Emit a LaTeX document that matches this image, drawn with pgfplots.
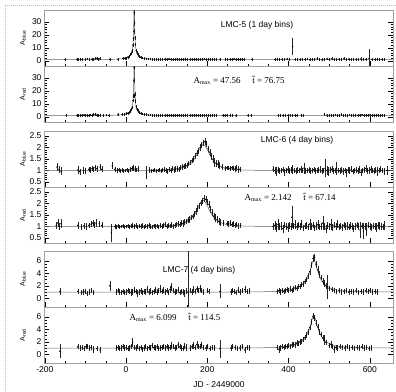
\documentclass[border=0pt]{standalone}
\usepackage{pgfplots}
\pgfplotsset{compat=1.18}
\usepackage{pgfplotstable}
\usepackage{fontspec}
\setsansfont{Liberation Sans}
\setmainfont{Liberation Serif}

% ---------------- LMC-5 blue (1 day bins) ----------------
\pgfplotstableread{
t a e
-150 1.0 0.5
-121 1.2 0.4
-117 0.9 0.4
-112 1.3 0.5
-108 1.1 0.4
-100 1.0 0.4
-95 1.4 0.5
-90 0.8 0.4
-84 1.2 0.4
-80 1.0 0.5
-76 1.6 0.6
-72 1.9 0.6
-69 1.2 0.5
-65 1.5 0.5
-40 1.1 0.4
-20 1.3 0.5
-8 1.8 0.5
-3 2.0 0.5
0 2.1 0.5
4 2.8 0.5
8 3.5 0.5
11 4.6 0.6
13 5.8 0.6
15 7.5 0.7
17 12.0 0.8
18 17 1
19 22.5 1.2
20 37 1.5
21 29 1.5
22 17.5 1
23 12.5 0.8
25 7.8 0.6
27 6.0 0.6
29 4.9 0.5
32 3.4 0.5
36 2.8 0.5
40 2.2 0.4
45 1.8 0.4
50 1.5 0.4
55 1.4 0.4
60 1.3 0.4
65 1.2 0.4
70 1.1 0.4
75 1.2 0.4
80 1.0 0.4
85 1.1 0.4
90 0.9 0.4
95 1.2 0.4
100 1.0 0.4
105 1.3 0.4
110 1.1 0.4
115 0.8 0.4
120 1.0 0.4
125 1.2 0.4
130 0.9 0.4
135 1.1 0.4
140 1.0 0.4
145 1.3 0.5
150 1.1 0.4
157 0.9 0.4
162 1.1 0.4
167 1.0 0.4
172 1.2 0.4
177 0.9 0.4
182 1.0 0.4
187 1.1 0.4
192 1.3 0.4
197 0.8 0.4
202 1.0 0.4
207 1.2 0.4
212 0.9 0.4
217 1.1 0.4
222 1.0 0.4
231 1.1 0.8
245 1.2 0.4
250 0.9 0.4
255 1.1 0.4
260 1.0 0.4
265 1.3 0.4
270 0.8 0.4
275 1.1 0.4
280 1.0 0.4
285 1.2 0.4
290 0.9 0.4
310 1.1 0.8
366 1.0 0.4
372 1.2 0.4
378 0.9 0.4
384 1.1 0.4
390 1.0 0.4
396 1.3 0.4
402 0.9 0.4
410 10.8 6.1
416 1.0 0.4
422 1.2 0.4
428 0.9 0.4
434 1.1 0.4
440 1.0 0.4
446 1.4 0.5
452 0.8 0.4
458 1.1 0.4
464 1.0 0.5
470 1.5 0.5
476 1.2 0.5
482 0.7 0.5
488 1.1 0.5
494 1.4 0.5
500 1.0 0.5
506 1.6 0.6
512 1.0 0.5
518 0.8 0.5
524 1.3 0.5
530 1.1 0.5
536 1.5 0.6
542 1.0 0.5
548 1.2 0.5
554 0.9 0.5
560 1.3 0.5
566 1.1 0.5
572 1.0 0.5
578 1.4 0.6
584 1.2 0.5
590 1.0 0.5
598 1.8 6.8
605 1.1 0.5
612 1.0 0.5
618 1.2 0.5
624 0.9 0.5
630 1.1 0.5
636 1.0 0.5
}\lmcfiveb

% ---------------- LMC-5 red ----------------
\pgfplotstableread{
t a e
-147 1.1 0.5
-121 1.0 0.4
-117 1.2 0.4
-113 0.9 0.4
-109 1.1 0.4
-104 1.3 0.4
-100 1.0 0.4
-96 1.2 0.4
-92 0.9 0.4
-88 1.4 0.5
-84 1.1 0.4
-80 1.6 0.5
-76 1.9 0.5
-72 1.3 0.5
-68 1.1 0.4
-64 1.2 0.4
-56 1.0 0.4
-48 1.3 0.4
-42 1.1 0.4
-20 1.5 0.5
-10 1.6 0.5
-4 1.9 0.5
0 2.2 0.5
4 2.7 0.5
8 3.4 0.5
11 4.4 0.6
13 5.5 0.6
15 7.4 0.6
17 12.6 0.8
18 16 1
19 28 1.3
20 38 1.5
21 16 1.0
22 17.5 1.0
23 12.0 0.8
25 7.6 0.6
27 5.9 0.6
29 4.6 0.5
32 3.3 0.5
36 2.6 0.5
40 2.1 0.4
45 1.8 0.4
50 1.6 0.4
55 1.4 0.4
60 1.3 0.4
65 1.2 0.4
70 1.2 0.4
75 1.0 0.4
80 1.1 0.4
85 1.0 0.4
90 1.2 0.4
95 0.9 0.4
100 1.1 0.4
105 1.0 0.4
110 1.2 0.4
115 0.9 0.4
120 1.1 0.4
125 1.0 0.4
130 1.2 0.4
135 0.9 0.4
140 1.1 0.4
145 1.0 0.4
150 1.2 0.4
157 1.0 0.4
162 1.1 0.4
167 0.9 0.4
172 1.2 0.4
177 1.0 0.4
182 1.1 0.4
187 0.9 0.4
192 1.2 0.4
197 1.0 0.4
202 1.1 0.4
207 0.9 0.4
212 1.0 0.4
217 1.2 0.4
222 1.0 0.4
238 1.1 0.4
243 0.9 0.4
248 1.2 0.4
256 1.0 0.4
262 1.1 0.4
270 0.9 0.4
300 1.0 0.4
308 1.1 0.4
375 1.0 0.4
380 1.2 0.4
386 0.9 0.4
392 1.1 0.4
398 1.0 0.4
404 1.2 0.4
410 0.9 0.4
416 1.1 0.4
420 1.0 0.4
432 1.2 0.4
436 0.9 0.4
488 2.0 0.6
494 1.2 0.5
500 1.0 0.4
505 1.3 0.5
510 1.1 0.4
515 1.4 0.5
520 1.0 0.4
525 1.2 0.4
530 1.5 0.5
535 1.1 0.4
540 1.3 0.5
545 1.0 0.4
550 1.4 0.5
555 1.2 0.4
560 1.0 0.4
565 1.3 0.5
570 1.1 0.4
575 1.2 0.4
580 1.4 0.5
585 1.0 0.4
590 1.2 0.4
595 1.1 0.4
600 1.3 0.5
605 1.0 0.4
610 1.2 0.4
615 1.1 0.4
620 1.3 0.5
625 0.9 0.4
630 1.1 0.4
636 1.0 0.4
}\lmcfiver

% ---------------- LMC-6 blue (4 day bins) ----------------
\pgfplotstableread{
t a e
-170 1.15 0.15
-165 1.05 0.12
-160 0.97 0.15
-119 1.02 0.12
-114 0.95 0.1
-105 1.0 0.1
-100 0.98 0.08
-92 1.05 0.08
-88 1.02 0.08
-84 1.08 0.08
-80 1.05 0.08
-76 1.12 0.1
-72 1.08 0.1
-64 1.15 0.1
-60 1.05 0.1
-34 1.2 0.12
-28 1.05 0.08
-22 1.0 0.06
-18 1.03 0.06
-14 0.98 0.05
-10 1.02 0.05
-6 0.97 0.05
-2 1.0 0.05
2 1.03 0.05
6 0.98 0.05
10 1.05 0.06
14 1.08 0.08
18 1.12 0.1
22 1.06 0.08
26 1.02 0.06
30 1.08 0.1
50 0.9 0.25
58 1.02 0.08
62 0.97 0.06
66 1.0 0.05
70 1.03 0.05
74 0.98 0.05
78 1.0 0.05
82 1.04 0.05
86 0.98 0.05
90 1.02 0.06
94 1.05 0.06
98 1.0 0.08
102 0.96 0.08
106 1.04 0.08
110 1.0 0.06
114 1.08 0.08
118 1.02 0.08
122 1.06 0.08
126 1.08 0.1
130 1.05 0.08
134 1.12 0.08
138 1.15 0.08
142 1.18 0.08
146 1.2 0.08
150 1.22 0.08
154 1.3 0.08
158 1.35 0.08
162 1.42 0.08
166 1.5 0.1
170 1.62 0.1
174 1.75 0.1
178 1.85 0.1
182 2.0 0.1
186 2.1 0.1
190 2.2 0.1
194 2.25 0.12
198 2.15 0.1
202 1.95 0.1
206 1.8 0.12
210 1.62 0.12
214 1.5 0.15
218 1.35 0.15
222 1.3 0.12
226 1.28 0.15
230 1.2 0.12
236 1.15 0.1
244 1.1 0.08
248 1.12 0.06
252 1.1 0.06
256 1.08 0.06
260 1.12 0.06
264 1.1 0.08
268 1.06 0.08
272 1.1 0.1
276 1.04 0.1
280 1.05 0.08
362 1.05 0.1
366 1.0 0.12
370 0.95 0.15
374 1.02 0.1
378 0.98 0.08
382 1.0 0.06
386 1.03 0.08
390 0.92 0.12
394 1.0 0.08
398 1.05 0.12
402 0.98 0.08
406 1.02 0.08
410 1.05 0.15
414 1.0 0.08
418 0.97 0.1
422 1.02 0.08
426 1.0 0.08
430 1.06 0.12
434 1.0 0.08
438 1.1 0.2
442 0.98 0.1
446 1.0 0.06
450 1.02 0.08
454 0.96 0.1
458 1.0 0.08
462 1.04 0.08
466 0.97 0.1
470 1.0 0.08
474 1.02 0.1
478 1.05 0.12
482 0.98 0.1
486 1.0 0.08
490 1.1 0.35
494 1.0 0.15
498 0.95 0.15
502 1.02 0.08
506 1.05 0.1
510 0.98 0.08
514 1.0 0.08
518 1.1 0.25
522 1.0 0.08
526 0.98 0.08
530 1.03 0.1
534 0.95 0.12
538 1.0 0.08
542 0.9 0.15
546 1.02 0.08
550 1.0 0.1
554 1.05 0.1
558 0.97 0.08
562 1.0 0.08
566 1.02 0.1
570 0.98 0.1
574 1.05 0.12
578 0.92 0.12
582 1.0 0.08
586 1.03 0.1
590 1.08 0.12
594 0.98 0.08
598 1.0 0.1
602 1.05 0.12
606 1.0 0.08
610 0.96 0.1
614 1.02 0.08
618 0.95 0.15
622 1.0 0.08
626 1.05 0.1
630 1.0 0.08
636 0.97 0.12
642 1.0 0.15
}\lmcsixb

% ---------------- LMC-6 red ----------------
\pgfplotstableread{
t a e
-172 1.05 0.12
-168 1.15 0.15
-164 1.0 0.12
-160 1.12 0.15
-119 1.05 0.12
-110 0.98 0.08
-104 1.02 0.08
-98 1.0 0.1
-92 1.05 0.08
-86 1.1 0.1
-82 1.15 0.1
-78 1.08 0.1
-74 1.15 0.12
-66 1.12 0.1
-60 1.05 0.1
-36 0.72 0.35
-28 1.0 0.08
-24 0.97 0.06
-20 1.02 0.06
-16 0.98 0.06
-12 1.0 0.05
-8 1.02 0.05
-4 0.98 0.05
0 1.0 0.05
4 1.03 0.05
8 0.98 0.06
12 1.02 0.06
16 1.05 0.08
20 1.0 0.06
24 1.03 0.08
28 0.97 0.06
32 1.02 0.06
36 1.0 0.06
40 1.04 0.08
44 0.98 0.06
48 1.02 0.06
52 1.0 0.06
56 1.05 0.08
60 1.0 0.06
64 0.97 0.06
68 1.03 0.06
72 1.0 0.06
76 1.02 0.06
80 0.98 0.06
84 1.05 0.06
88 1.0 0.06
92 1.03 0.08
96 1.08 0.08
100 1.0 0.06
104 1.05 0.08
108 1.02 0.06
112 1.06 0.08
116 1.0 0.06
120 1.05 0.08
124 1.08 0.08
128 1.12 0.1
132 1.08 0.08
136 1.15 0.1
140 1.12 0.12
144 1.18 0.1
148 1.22 0.08
152 1.28 0.08
156 1.3 0.1
160 1.38 0.08
164 1.45 0.08
168 1.55 0.1
172 1.65 0.1
176 1.78 0.1
180 1.9 0.1
184 2.02 0.1
188 2.12 0.1
192 2.22 0.12
196 2.18 0.1
200 2.05 0.1
204 1.95 0.12
208 1.75 0.12
212 1.6 0.12
216 1.45 0.12
220 1.38 0.15
224 1.3 0.12
228 1.22 0.1
232 1.18 0.12
240 1.15 0.1
248 1.12 0.08
252 1.1 0.1
256 1.15 0.1
260 1.08 0.08
264 1.12 0.1
268 1.05 0.08
272 1.08 0.08
276 1.02 0.08
282 1.05 0.06
362 1.0 0.1
366 1.05 0.15
370 0.95 0.15
374 1.08 0.2
378 1.0 0.1
382 1.02 0.12
386 0.9 0.15
390 1.05 0.1
394 1.0 0.12
398 0.95 0.15
402 1.05 0.12
406 1.0 0.1
408 1.4 0.45
412 1.02 0.1
416 1.08 0.15
420 0.98 0.12
424 1.05 0.1
428 1.0 0.1
432 1.1 0.15
436 0.95 0.1
440 1.02 0.1
444 1.05 0.12
448 0.98 0.1
452 1.1 0.2
456 1.0 0.12
460 1.05 0.1
464 0.95 0.1
468 1.02 0.12
472 1.08 0.15
476 0.98 0.1
480 1.0 0.1
484 1.15 0.25
488 1.0 0.12
492 0.9 0.15
496 1.05 0.12
500 1.0 0.1
504 1.08 0.2
508 0.95 0.12
512 1.05 0.1
516 1.0 0.12
520 1.1 0.15
524 0.98 0.1
528 1.02 0.1
532 0.95 0.12
536 1.05 0.1
540 1.0 0.1
544 1.02 0.12
548 0.96 0.1
552 1.04 0.1
556 1.0 0.1
560 0.92 0.12
564 1.0 0.1
568 1.05 0.1
572 1.0 0.1
576 0.85 0.3
580 1.02 0.1
584 0.8 0.3
588 1.0 0.1
592 0.85 0.25
596 1.05 0.1
600 1.0 0.12
604 0.95 0.12
608 1.02 0.1
612 1.0 0.1
616 0.95 0.15
620 1.05 0.12
624 1.02 0.15
628 1.0 0.12
632 0.98 0.1
636 1.05 0.15
}\lmcsixr

% ---------------- LMC-7 blue (4 day bins) ----------------
\pgfplotstableread{
t a e
-163 1.1 0.5
-119 1.1 0.3
-110 0.9 0.3
-106 1.0 0.4
-101 1.1 0.3
-96 0.8 0.3
-90 1.0 0.3
-85 1.2 0.3
-80 0.9 0.3
-40 2.0 0.7
-24 1.0 0.3
-20 1.2 0.3
-16 1.0 0.3
-12 0.9 0.3
-8 1.1 0.3
-4 0.9 0.3
0 1.0 0.3
4 1.2 0.3
8 1.1 0.3
12 0.9 0.4
16 1.0 0.3
20 1.3 0.4
24 1.1 0.3
28 0.8 0.4
32 1.0 0.3
36 1.2 0.4
40 0.9 0.3
44 1.1 0.3
48 1.0 0.3
52 1.4 0.4
56 1.0 0.3
60 1.2 0.4
64 0.9 0.3
68 1.1 0.3
72 1.3 0.4
76 1.0 0.3
80 1.2 0.3
84 1.5 0.5
88 1.1 0.3
92 1.3 0.4
96 1.0 0.3
100 1.2 0.3
104 0.9 0.3
108 1.4 0.4
112 1.8 0.5
116 1.2 0.3
120 1.0 0.3
124 1.1 0.3
128 1.3 0.4
132 0.9 0.3
136 1.1 0.3
140 1.0 0.4
144 0.8 0.4
148 1.2 0.4
152 1.0 12
158 1.2 0.3
162 1.0 0.4
166 1.4 0.4
170 1.1 0.3
174 1.5 0.4
178 1.2 0.3
182 1.6 0.4
186 1.2 0.3
190 1.0 0.3
200 1.2 0.3
204 1.1 0.3
231 1.1 1.0
258 1.0 0.3
262 1.2 0.3
266 1.1 0.3
270 0.9 0.3
276 1.3 0.4
280 1.0 0.3
286 1.2 0.3
292 1.4 0.4
298 1.1 0.3
304 1.2 0.4
372 1.1 0.3
376 1.2 0.3
380 1.0 0.3
384 1.3 0.3
388 1.1 0.3
392 1.2 0.3
396 1.4 0.3
400 1.2 0.3
404 1.5 0.3
408 1.3 0.3
412 1.5 0.3
416 1.7 0.3
420 1.6 0.3
424 1.9 0.3
428 1.9 0.3
432 2.2 0.3
436 2.3 0.3
440 2.7 0.3
444 3.0 0.3
448 3.6 0.3
452 4.3 0.35
456 5.3 0.35
460 6.4 0.4
464 6.6 0.4
468 5.4 0.4
472 4.6 0.4
476 3.8 0.4
480 3.3 0.3
484 2.7 0.4
488 2.4 0.4
492 2.0 0.4
495 1.8 1.8
500 1.6 0.3
506 1.4 0.3
512 1.3 0.3
518 1.1 0.3
524 1.2 0.3
530 1.0 0.3
536 1.1 0.3
542 1.2 0.3
548 1.0 0.3
554 1.1 0.3
560 1.0 0.3
566 1.2 0.3
572 0.9 0.3
578 1.1 0.3
584 1.0 0.3
590 1.2 0.3
596 1.1 0.3
600 1.3 0.3
606 1.0 0.3
612 1.1 0.3
618 1.0 0.3
}\lmcsevenb

% ---------------- LMC-7 red ----------------
\pgfplotstableread{
t a e
-163 0.5 1.0
-119 1.2 0.3
-112 1.0 0.3
-108 1.1 0.3
-103 0.9 0.3
-99 1.2 0.3
-95 1.3 0.3
-90 1.0 0.3
-86 1.1 0.3
-80 0.8 0.4
-72 0.9 0.3
-64 0.7 0.4
-24 1.0 0.3
-20 1.1 0.3
-16 0.9 0.3
-12 1.0 0.3
-8 1.2 0.3
-4 1.0 0.3
0 1.1 0.3
4 0.9 0.3
8 1.0 0.3
12 1.3 0.3
16 1.9 0.6
20 1.1 0.3
24 1.0 0.3
28 1.2 0.3
32 0.9 0.3
36 1.1 0.3
40 0.8 0.3
44 1.0 0.3
48 1.2 0.3
52 0.9 0.3
56 1.1 0.3
60 1.0 0.3
64 1.4 0.3
68 1.1 0.3
72 1.0 0.3
76 1.2 0.3
80 0.9 0.3
84 1.0 0.3
88 1.1 0.3
92 1.3 0.3
96 1.0 0.3
100 1.2 0.3
104 1.0 0.3
108 1.1 0.3
112 1.4 0.4
116 1.2 0.3
120 1.0 0.3
124 1.1 0.3
128 1.5 0.4
132 1.2 0.3
136 1.0 0.3
140 0.9 0.3
144 1.3 0.4
148 1.1 0.5
158 1.0 0.3
162 1.2 0.3
166 1.4 0.4
170 1.1 0.3
174 1.6 0.4
178 1.3 0.3
182 1.2 0.3
186 1.5 0.4
190 1.1 0.3
196 1.0 0.3
200 1.2 0.3
206 0.9 0.3
212 1.1 0.3
218 1.0 0.3
231 0.9 1.3
258 1.0 0.3
262 1.2 0.3
268 1.1 0.3
274 0.9 0.3
280 1.0 0.3
286 1.2 0.3
292 0.7 0.4
298 1.1 0.3
304 1.0 0.3
372 1.1 0.3
376 0.8 0.4
380 1.0 0.3
384 1.2 0.3
388 1.1 0.3
392 1.3 0.3
396 1.2 0.3
400 1.4 0.3
404 1.3 0.3
408 1.5 0.3
412 1.6 0.3
416 1.5 0.3
420 1.8 0.3
424 1.7 0.3
428 2.0 0.3
432 2.1 0.3
436 2.4 0.3
440 2.7 0.3
444 3.1 0.3
448 3.6 0.3
452 4.3 0.3
456 5.2 0.35
460 6.1 0.35
464 5.8 0.35
468 5.0 0.35
472 4.4 0.35
476 3.6 0.3
480 3.2 0.3
484 2.6 0.3
488 2.3 0.6
492 1.9 0.3
500 1.4 0.3
504 1.6 0.4
508 1.2 0.3
512 0.8 0.4
516 1.1 0.3
520 1.0 0.3
526 1.2 0.3
532 1.1 0.3
538 1.0 0.3
544 1.2 0.3
550 1.0 0.3
556 1.1 0.3
562 0.9 0.3
568 1.1 0.3
574 1.0 0.3
580 1.2 0.3
586 1.0 0.3
592 1.1 0.3
598 0.9 0.3
604 1.0 0.3
}\lmcsevenr

\pgfplotsset{
  panel/.style={
    scale only axis, width=349pt, height=56pt,
    xmin=-202, xmax=657,
    xtick={-200,0,200,400,600}, minor x tick num=3,
    xtick pos=left, xticklabels={},
    axis line style={draw=gray!75, line width=1pt},
    tick style={black, line width=0.4pt},
    major tick length=5pt, minor tick length=2.5pt,
    tick label style={font=\sffamily\fontsize{8.5}{9}\selectfont},
    /pgf/number format/assume math mode=true,
    yticklabel style={xshift=1pt},
    clip=true,
  },
  pts/.style={only marks, mark=*, mark size=0.45pt, black,
    error bars/.cd, y dir=both, y explicit,
    error bar style={line width=0.3pt, black!85},
    error mark options={mark size=0.8pt, line width=0.3pt, black!85}},
  model/.style={black!60, line width=0.5pt, no marks},
}

\begin{document}
\begin{tikzpicture}
\useasboundingbox (0pt,0pt) rectangle (396pt,-391pt);
\draw[gray!55, densely dotted, line width=1pt] (5pt,-391pt) -- (5pt,-5pt) -- (396pt,-5pt);

% ---- panel 1: LMC-5 blue
\begin{axis}[panel, at={(44pt,-10pt)}, anchor=north west,
  ymin=-4, ymax=39, ytick={0,10,20,30}, minor y tick num=4]
\addplot[model] coordinates {(-200,1.000)(-130,1.007)(-60,1.054)(-40,1.120)(-30,1.189)(-20,1.313)(-10,1.556)(-5,1.769)(0,2.109)(5,2.701)(8,3.309)(10,3.924)(12,4.854)(14,6.400)(15,7.63)(16,9.447)(17,12.4)(18,17.8)(18.5,22.6)(19,29.9)(19.5,40.5)(20,47.56)(20.5,40.5)(21,29.9)(21.5,22.6)(22,17.8)(23,12.4)(24,9.447)(25,7.63)(26,6.400)(28,4.854)(30,3.924)(32,3.309)(35,2.701)(40,2.109)(45,1.769)(50,1.556)(60,1.313)(70,1.189)(80,1.120)(100,1.054)(170,1.007)(660,1.000)};
\addplot[pts] table[x=t, y=a, y error=e] {\lmcfiveb};
\end{axis}

% ---- panel 2: LMC-5 red
\begin{axis}[panel, at={(44pt,-66pt)}, anchor=north west,
  ymin=-4, ymax=39, ytick={0,10,20,30}, minor y tick num=4]
\addplot[model] coordinates {(-200,1.000)(-130,1.007)(-60,1.054)(-40,1.120)(-30,1.189)(-20,1.313)(-10,1.556)(-5,1.769)(0,2.109)(5,2.701)(8,3.309)(10,3.924)(12,4.854)(14,6.400)(15,7.63)(16,9.447)(17,12.4)(18,17.8)(18.5,22.6)(19,29.9)(19.5,40.5)(20,47.56)(20.5,40.5)(21,29.9)(21.5,22.6)(22,17.8)(23,12.4)(24,9.447)(25,7.63)(26,6.400)(28,4.854)(30,3.924)(32,3.309)(35,2.701)(40,2.109)(45,1.769)(50,1.556)(60,1.313)(70,1.189)(80,1.120)(100,1.054)(170,1.007)(660,1.000)};
\addplot[pts] table[x=t, y=a, y error=e] {\lmcfiver};
\end{axis}

% ---- panel 3: LMC-6 blue
\begin{axis}[panel, at={(44pt,-131pt)}, anchor=north west,
  ymin=0.28, ymax=2.72, ytick={0.5,1,1.5,2,2.5}, minor y tick num=4]
\addplot[model] coordinates {(-200,1.000)(40,1.004)(90,1.0165)(120,1.049)(130,1.075)(140,1.1175)(150,1.191)(155,1.247)(160,1.321)(165,1.420)(170,1.551)(175,1.716)(180,1.904)(185,2.071)(190,2.142)(195,2.071)(200,1.904)(205,1.716)(210,1.551)(215,1.420)(220,1.321)(225,1.247)(230,1.191)(240,1.1175)(250,1.075)(260,1.049)(290,1.0165)(340,1.004)(660,1.000)};
\addplot[pts] table[x=t, y=a, y error=e] {\lmcsixb};
\end{axis}

% ---- panel 4: LMC-6 red
\begin{axis}[panel, at={(44pt,-187pt)}, anchor=north west,
  ymin=0.28, ymax=2.72, ytick={0.5,1,1.5,2,2.5}, minor y tick num=4]
\addplot[model] coordinates {(-200,1.000)(40,1.004)(90,1.0165)(120,1.049)(130,1.075)(140,1.1175)(150,1.191)(155,1.247)(160,1.321)(165,1.420)(170,1.551)(175,1.716)(180,1.904)(185,2.071)(190,2.142)(195,2.071)(200,1.904)(205,1.716)(210,1.551)(215,1.420)(220,1.321)(225,1.247)(230,1.191)(240,1.1175)(250,1.075)(260,1.049)(290,1.0165)(340,1.004)(660,1.000)};
\addplot[pts] table[x=t, y=a, y error=e] {\lmcsixr};
\end{axis}

% ---- panel 5: LMC-7 blue
\begin{axis}[panel, at={(44pt,-251pt)}, anchor=north west,
  ymin=-1.4, ymax=7.6, ytick={0,2,4,6}, minor y tick num=3]
\addplot[model] coordinates {(-200,1.000)(160,1.002)(280,1.014)(340,1.052)(360,1.088)(380,1.157)(400,1.301)(410,1.434)(420,1.649)(430,2.020)(437,2.313)(442,2.729)(447,3.341)(452,4.244)(454.5,4.814)(457,5.410)(459.5,5.901)(462,6.099)(464.5,5.901)(467,5.410)(469.5,4.814)(472,4.244)(477,3.341)(482,2.729)(487,2.313)(492,2.020)(502,1.649)(512,1.434)(522,1.301)(542,1.157)(562,1.088)(582,1.052)(642,1.014)(660,1.010)};
\addplot[pts] table[x=t, y=a, y error=e] {\lmcsevenb};
\end{axis}

% ---- panel 6: LMC-7 red
\begin{axis}[panel, at={(44pt,-307pt)}, anchor=north west,
  ymin=-1.4, ymax=7.6, ytick={0,2,4,6}, minor y tick num=3,
  xticklabels={-200,0,200,400,600}]
\addplot[model] coordinates {(-200,1.000)(160,1.002)(280,1.014)(340,1.052)(360,1.088)(380,1.157)(400,1.301)(410,1.434)(420,1.649)(430,2.020)(437,2.313)(442,2.729)(447,3.341)(452,4.244)(454.5,4.814)(457,5.410)(459.5,5.901)(462,6.099)(464.5,5.901)(467,5.410)(469.5,4.814)(472,4.244)(477,3.341)(482,2.729)(487,2.313)(492,2.020)(502,1.649)(512,1.434)(522,1.301)(542,1.157)(562,1.088)(582,1.052)(642,1.014)(660,1.010)};
\addplot[pts] table[x=t, y=a, y error=e] {\lmcsevenr};
\end{axis}

% ---- y labels
\begin{scope}[font=\sffamily\fontsize{7}{8}\selectfont]
\node[rotate=90] at (23pt,-38pt) {A\textsubscript{blue}};
\node[rotate=90] at (23pt,-94pt) {A\textsubscript{red}};
\node[rotate=90] at (23pt,-159pt) {A\textsubscript{blue}};
\node[rotate=90] at (23pt,-215pt) {A\textsubscript{red}};
\node[rotate=90] at (23pt,-279pt) {A\textsubscript{blue}};
\node[rotate=90] at (23pt,-335pt) {A\textsubscript{red}};
\end{scope}

% ---- titles and fit parameters
\begin{scope}[font=\sffamily\fontsize{8.5}{9}\selectfont]
\node at (257pt,-25pt) {LMC-5 (1 day bins)};
\node at (297pt,-140pt) {LMC-6 (4 day bins)};
\node at (199pt,-270pt) {LMC-7 (4 day bins)};
\node at (219pt,-385pt) {JD - 2449000};
\end{scope}
\begin{scope}[font=\rmfamily\fontsize{9}{10}\selectfont]
\node[anchor=west] at (190pt,-80pt) {A\textsubscript{max} = 47.56\hspace{1.3em}\^{t} = 76.75};
\node[anchor=west] at (241pt,-197pt) {A\textsubscript{max} = 2.142\hspace{1.3em}\^{t} = 67.14};
\node[anchor=west] at (126pt,-317pt) {A\textsubscript{max} = 6.099\hspace{1.3em}\^{t} = 114.5};
\end{scope}
\end{tikzpicture}
\end{document}
